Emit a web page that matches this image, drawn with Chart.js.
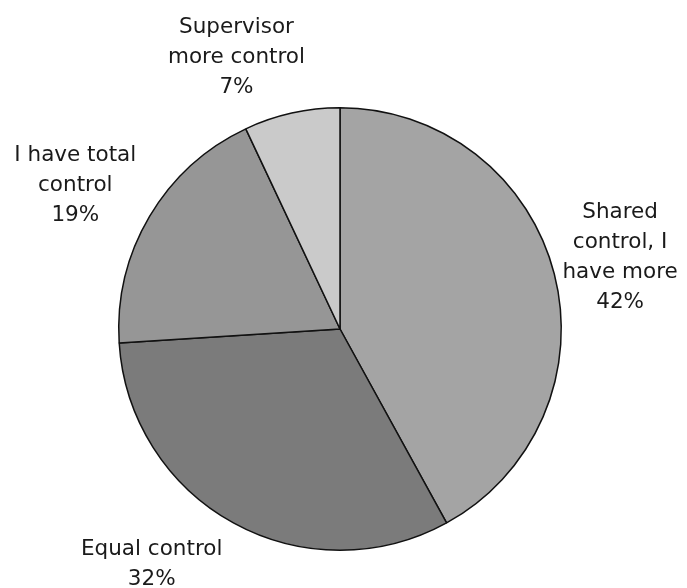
<!DOCTYPE html>
<html>
<head>
<meta charset="utf-8">
<script src="https://cdn.jsdelivr.net/npm/chart.js@4.4.1/dist/chart.umd.min.js"></script>
<style>
html,body{margin:0;padding:0;background:#fff;}
#wrap{width:687px;height:588px;position:relative;}
</style>
</head>
<body>
<div id="wrap"><canvas id="c" width="687" height="588"></canvas></div>
<script>
const categories = ["Shared control, I have more", "Equal control", "I have total control", "Supervisor more control"];
const labelLines = [["Shared", "control, I", "have more"], ["Equal control"], ["I have total", "control"], ["Supervisor", "more control"]];
const values = [42, 32, 19, 7];
const colors = ["#a4a4a4", "#7b7b7b", "#969696", "#cacaca"];
// label nudges (px) from the default outside position along the slice mid-angle
const labelNudge = [[-2, 1], [-48, -20], [-14, 5], [-40, 13]];

const outsideLabels = {
  id: 'outsideLabels',
  afterDatasetsDraw(chart) {
    const ctx = chart.ctx;
    const meta = chart.getDatasetMeta(0);
    const total = values.reduce((a, b) => a + b, 0);
    ctx.save();
    ctx.font = '21.5px "DejaVu Sans", Verdana, sans-serif';
    ctx.fillStyle = '#1a1a1a';
    ctx.textAlign = 'center';
    ctx.textBaseline = 'middle';
    const lh = 30;
    meta.data.forEach((arc, i) => {
      const p = arc.getProps(['x', 'y', 'startAngle', 'endAngle', 'outerRadius'], true);
      const mid = (p.startAngle + p.endAngle) / 2;
      const d = p.outerRadius + 70;
      const cx = p.x + Math.cos(mid) * d + labelNudge[i][0];
      const cy = p.y + Math.sin(mid) * d + labelNudge[i][1];
      const lines = labelLines[i].concat([Math.round(values[i] / total * 100) + '%']);
      const y0 = cy - (lines.length - 1) * lh / 2;
      lines.forEach((t, k) => ctx.fillText(t, cx, y0 + k * lh));
    });
    ctx.restore();
  }
};

new Chart(document.getElementById('c'), {
  type: 'pie',
  data: {
    labels: categories,
    datasets: [{
      data: values,
      backgroundColor: colors,
      borderColor: '#111',
      borderWidth: 1.5
    }]
  },
  options: {
    responsive: false,
    animation: false,
    layout: { padding: { top: 107, bottom: 37, left: 0, right: 7 } },
    plugins: { legend: { display: false }, tooltip: { enabled: false } }
  },
  plugins: [outsideLabels]
});
</script>
</body>
</html>
